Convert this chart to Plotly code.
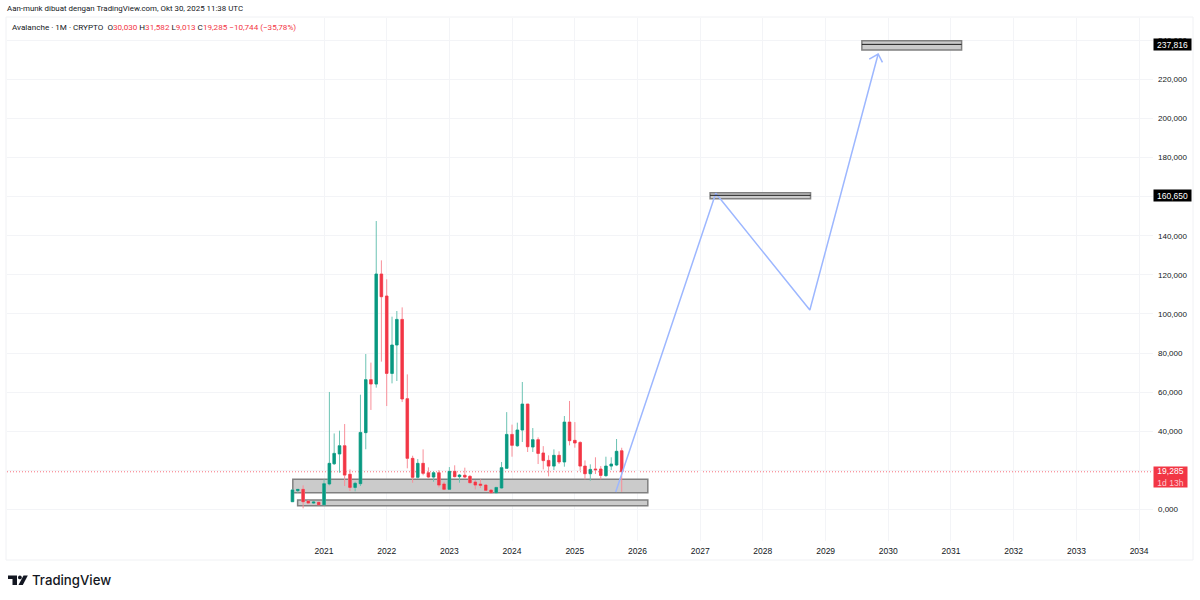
import plotly.graph_objects as go

# monthly AVAX candles (price scale as shown on the chart)
first_month = (2020, 7)
opens = [4.0, 9.63, 10.3, 4.3, 3.3, 3.65, 2.45, 13.05, 23.4, 28.4, 32.6, 18.0, 11.3, 13.2, 39.3, 66.4,
         64.15, 120.4, 109.15, 69.6, 84.1, 97.2, 56.65, 26.15, 16.45, 23.6, 18.8, 16.6, 18.8, 13.05, 10.3, 19.5,
         16.8, 17.5, 16.95, 14.05, 13.0, 12.5, 9.95, 8.6, 11.0, 21.05, 38.4, 32.6, 40.65, 53.9, 31.95, 35.7,
         28.9, 25.1, 22.2, 27.7, 24.3, 44.7, 35.35, 34.3, 22.2, 18.3, 20.7, 20.7, 17.3, 22.2, 22.75, 30.03]
highs = [10.0, 10.3, 12.35, 4.85, 4.3, 4.0, 15.4, 60.1, 38.9, 40.3, 43.7, 20.5, 14.2, 58.7, 79.5, 75.1,
         147.5, 127.4, 117.7, 98.6, 101.5, 103.35, 69.1, 27.5, 25.8, 30.75, 21.55, 19.65, 20.2, 14.2, 21.7, 22.6,
         18.15, 21.4, 17.6, 15.1, 15.4, 12.85, 10.1, 11.5, 24.3, 49.8, 43.4, 44.4, 65.2, 53.9, 41.65, 36.9,
         32.4, 27.7, 30.75, 29.75, 47.8, 55.5, 44.7, 34.85, 25.1, 23.1, 26.7, 22.2, 27.0, 26.7, 36.05, 31.582]
lows = [4.0, 8.6, 0.6, 3.15, 2.8, 2.3, 2.1, 12.35, 22.75, 18.8, 12.0, 9.45, 9.3, 12.0, 30.8, 50.9,
        62.3, 75.6, 52.9, 64.5, 65.7, 54.95, 21.05, 13.7, 15.8, 17.5, 15.9, 14.2, 11.3, 9.95, 9.95, 16.45,
        13.7, 15.9, 13.4, 10.3, 11.0, 9.45, 8.6, 8.6, 10.65, 20.9, 27.0, 32.1, 34.5, 29.4, 29.4, 23.25,
        20.5, 16.95, 20.2, 23.25, 21.9, 32.8, 31.6, 19.85, 15.4, 14.7, 18.15, 15.4, 16.8, 20.2, 22.2, 9.013]
closes = [10.0, 10.3, 4.0, 3.3, 3.8, 2.45, 13.2, 23.6, 28.7, 32.6, 17.6, 11.3, 13.4, 39.4, 66.4, 64.15,
          120.4, 108.8, 69.6, 84.1, 97.2, 56.5, 26.15, 16.45, 23.6, 18.5, 16.6, 18.8, 12.5, 10.3, 19.5, 16.8,
          17.6, 16.6, 13.7, 12.5, 12.35, 9.8, 8.6, 11.3, 21.4, 38.4, 32.8, 40.65, 53.9, 32.1, 35.7, 28.7,
          25.0, 22.2, 27.7, 24.3, 44.7, 35.2, 34.0, 22.2, 18.3, 20.5, 20.35, 17.45, 22.2, 23.25, 29.75, 19.285]

# drawings on top of the candles
path_dates = ["2025-08-27", "2027-04-02", "2028-10-01", "2029-11-03"]
path_prices = [8.95, 161.7, 102.0, 232.9]
arrow_dates = ["2029-09-12", "2029-11-03", "2029-11-28"]
arrow_prices = [230.3, 232.9, 228.6]

zone_starts = ["2020-07-03", "2020-07-31", "2027-02-28", "2029-07-31"]
zone_ends = ["2026-03-02", "2026-03-02", "2028-10-05", "2031-03-04"]
zone_tops = [15.44, 4.86, 161.96, 239.7]
zone_bottoms = [8.59, 1.94, 158.9, 234.9]
target_prices = [160.65, 237.816]
target_labels = ["160,650", "237,816"]
last_price = 19.285

year_labels = [str(y) for y in range(2021, 2035)]
price_ticks = list(range(0, 241, 20))

W, H = 1200, 600
L, R, T, B = 7, 47, 18, 59  # plot area in pixels


def px(x):
    return (x - L) / (W - L - R)


def py(y):
    return 1 - (y - T) / (H - T - B)


dates = []
for i in range(len(opens)):
    m = first_month[1] - 1 + i
    dates.append("%d-%02d-01" % (first_month[0] + m // 12, m % 12 + 1))

GREEN = "#089981"
RED = "#f23645"
TEXT = "#131722"
GRID = "#f3f4f7"
BLUE = "#9db7ff"
FONT = "Liberation Sans"
HEAD_FONT = "Roboto"

fig = go.Figure()

# wicks first, lighter, then the bodies on top
fig.add_trace(go.Candlestick(
    x=dates, open=opens, high=highs, low=lows, close=closes,
    increasing=dict(line=dict(color="#6cc3b3", width=1), fillcolor="#6cc3b3"),
    decreasing=dict(line=dict(color="#f88f99", width=1), fillcolor="#f88f99"),
))
fig.add_trace(go.Candlestick(
    x=dates, open=opens, close=closes,
    high=[max(a, b) for a, b in zip(opens, closes)],
    low=[min(a, b) for a, b in zip(opens, closes)],
    increasing=dict(line=dict(color=GREEN, width=0.5), fillcolor=GREEN),
    decreasing=dict(line=dict(color=RED, width=0.5), fillcolor=RED),
))

fig.add_trace(go.Scatter(x=path_dates, y=path_prices, mode="lines",
                         line=dict(color=BLUE, width=1.5)))
fig.add_trace(go.Scatter(x=arrow_dates, y=arrow_prices, mode="lines",
                         line=dict(color=BLUE, width=1.5)))

for i in range(len(zone_starts)):
    fig.add_shape(type="rect", xref="x", yref="y", layer="between",
                  x0=zone_starts[i], x1=zone_ends[i], y0=zone_bottoms[i], y1=zone_tops[i],
                  fillcolor="#cbcbcb", line=dict(color="#808080", width=1.5))

for i, price in enumerate(target_prices):
    fig.add_shape(type="line", xref="x", yref="y", layer="above",
                  x0=zone_starts[i + 2], x1=zone_ends[i + 2], y0=price, y1=price,
                  line=dict(color="#1a1a1a", width=1))
    fig.add_annotation(xref="paper", yref="y", x=px(1153), y=price, text=target_labels[i],
                       xanchor="left", yanchor="middle", showarrow=False, width=37, height=11,
                       bgcolor="#000000", borderpad=0, font=dict(family=FONT, size=8.5, color="#ffffff"))

fig.add_shape(type="line", xref="paper", yref="y", layer="between", x0=0, x1=1, y0=last_price, y1=last_price,
              line=dict(color="#f7707c", width=1, dash="1px,2px"))

fig.add_annotation(xref="paper", yref="paper", x=px(1153), y=py(477),
                   text='19,285<br><span style="color:#ffc9ce">1d 13h</span>',
                   xanchor="left", yanchor="middle", showarrow=False, width=33, height=20,
                   bgcolor=RED, borderpad=0, font=dict(family=FONT, size=8.5, color="#ffffff"))

# header
fig.add_annotation(xref="paper", yref="paper", x=px(5), y=py(9), xanchor="left", yanchor="middle",
                   showarrow=False, text="Aan-munk dibuat dengan TradingView.com, Okt 30, 2025 11:38 UTC",
                   font=dict(family=HEAD_FONT, size=7.9, color=TEXT))
red = '<span style="color:%s">' % RED
fig.add_annotation(xref="paper", yref="paper", x=px(10), y=py(27), xanchor="left", yanchor="middle",
                   showarrow=False,
                   text="Avalanche · 1M · CRYPTO  O" + red + "30,030</span> H" + red + "31,582</span> L" + red
                        + "9,013</span> C" + red + "19,285</span> " + red + "−10,744 (−35,78%)</span>",
                   font=dict(family=HEAD_FONT, size=8.1, color=TEXT))

# frame around the chart
fig.add_shape(type="rect", xref="paper", yref="paper", layer="below",
              x0=px(6), x1=px(1193), y0=py(560), y1=py(17),
              line=dict(color="#f0f1f4", width=1))

# logo
fig.add_shape(type="path", xref="paper", yref="paper", fillcolor=TEXT, line=dict(width=0),
              path="M %f %f L %f %f L %f %f L %f %f L %f %f L %f %f Z" % (
                  px(8), py(575.5), px(17), py(575.5), px(17), py(585), px(12.5), py(585),
                  px(12.5), py(579), px(8), py(579)))
fig.add_shape(type="circle", xref="paper", yref="paper", fillcolor=TEXT, line=dict(width=0),
              x0=px(18), x1=px(21.8), y0=py(579.3), y1=py(575.5))
fig.add_shape(type="path", xref="paper", yref="paper", fillcolor=TEXT, line=dict(width=0),
              path="M %f %f L %f %f L %f %f L %f %f Z" % (
                  px(23.5), py(575.5), px(27.8), py(575.5), px(22.8), py(585), px(18.5), py(585)))
fig.add_annotation(xref="paper", yref="paper", x=px(30), y=py(580), xanchor="left", yanchor="middle",
                   showarrow=False, text="TradingView",
                   font=dict(family="Inter", size=13.2, weight=500, color=TEXT))

fig.update_xaxes(
    type="date",
    range=["2015-12-12", "2034-03-23"],
    rangeslider=dict(visible=False),
    tickmode="array",
    tickvals=[y + "-01-01" for y in year_labels],
    ticktext=year_labels,
    showgrid=True,
    gridcolor=GRID,
    gridwidth=1,
    zeroline=False,
    showline=False,
    ticks="",
    ticklabelstandoff=3,
    tickfont=dict(family=FONT, size=8.5, color=TEXT),
)
fig.update_yaxes(
    side="right",
    range=[-16.1, 251.3],
    tickmode="array",
    tickvals=price_ticks,
    tickformat=".3f",
    showgrid=True,
    gridcolor=GRID,
    gridwidth=1,
    zeroline=False,
    showline=False,
    ticks="",
    ticklabelstandoff=4,
    tickfont=dict(family=FONT, size=8, color=TEXT),
)
fig.update_layout(
    width=W,
    height=H,
    margin=dict(l=L, r=R, t=T, b=B),
    separators=",.",
    showlegend=False,
    boxmode="overlay",
    boxgap=0.25,
    plot_bgcolor="#ffffff",
    paper_bgcolor="#ffffff",
)

# the browser's default body margin would push the figure 8px off
fig.write_html("out.html", config=dict(displayModeBar=False),
               post_script="document.body.style.margin = '0';")
